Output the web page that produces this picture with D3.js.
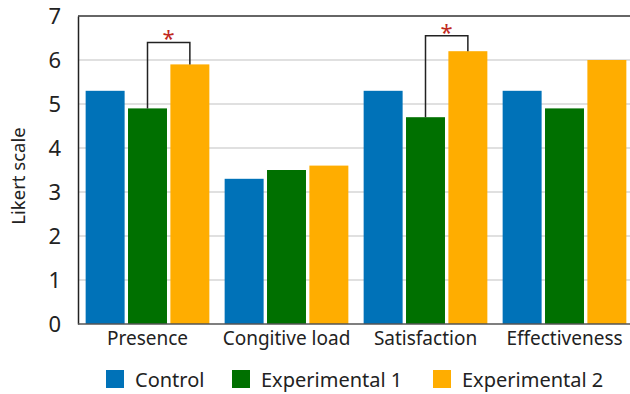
<!DOCTYPE html>
<html><head><meta charset="utf-8">
<script src="https://cdn.jsdelivr.net/npm/d3@7"></script>
<style>body{margin:0;background:#fff}svg{display:block}text{font-family:"Noto Sans","Open Sans",sans-serif;fill:#222}</style>
</head><body><svg id="c" width="630" height="394"></svg>
<script>
const categories = ["Presence", "Congitive load", "Satisfaction", "Effectiveness"];
const seriesNames = ["Control", "Experimental 1", "Experimental 2"];
const control = [5.3, 3.3, 5.3, 5.3];
const experimental1 = [4.9, 3.5, 4.7, 4.9];
const experimental2 = [5.9, 3.6, 6.2, 6.0];
const yTicks = [0, 1, 2, 3, 4, 5, 6, 7];
const colors = ["#0072b8", "#007000", "#ffad00"];
// significance brackets: category index, from series, to series, bracket level
const sigCategory = [0, 2];
const sigFrom = [1, 1];
const sigTo = [2, 2];
const sigLevel = [6.4, 6.55];

const values = [control, experimental1, experimental2];
const svg = d3.select("#c");
const L = 78, R = 634, T = 16, B = 324;
const x = d3.scaleBand().domain(categories).range([L, R]).paddingInner(0.11).paddingOuter(0.055);
const xs = d3.scaleBand().domain(seriesNames).range([0, x.bandwidth()]).paddingInner(0.08);
const y = d3.scaleLinear().domain([0, 7]).range([B, T]);

// gridlines
svg.append("g").selectAll("line").data(yTicks.filter(t => t > 0 && t < 7)).join("line")
  .attr("x1", L).attr("x2", 630).attr("y1", d => y(d)).attr("y2", d => y(d))
  .attr("stroke", "#d6d6d6").attr("stroke-width", 1.5);
// top border
svg.append("line").attr("x1", L).attr("x2", 630).attr("y1", y(7)).attr("y2", y(7))
  .attr("stroke", "#666").attr("stroke-width", 2);

// bars
const g = svg.append("g");
categories.forEach((c, i) => {
  seriesNames.forEach((s, j) => {
    g.append("rect").attr("x", x(c) + xs(s)).attr("width", xs.bandwidth())
      .attr("y", y(values[j][i])).attr("height", y(0) - y(values[j][i]))
      .attr("fill", colors[j]);
  });
});

// axes
const ya = svg.append("g").attr("transform", `translate(${L},0)`)
  .call(d3.axisLeft(y).tickValues(yTicks).tickFormat(d3.format("d")).tickSize(0).tickPadding(17));
ya.select(".domain").attr("stroke", "#222").attr("stroke-width", 1.5);
ya.selectAll("text").style("font-size", "22px").attr("fill", "#222");
const xa = svg.append("g").attr("transform", `translate(0,${B})`)
  .call(d3.axisBottom(x).tickSize(0).tickPadding(8));
xa.select(".domain").attr("stroke", "#555").attr("stroke-width", 1.5).attr("d", `M${L},0H630`);
xa.selectAll("text").style("font-size", "19px").attr("fill", "#222");

svg.append("text").attr("transform", `translate(25,${(T + B) / 2 + 6}) rotate(-90)`)
  .attr("text-anchor", "middle").style("font-size", "18.5px").text("Likert scale");

// significance brackets
sigCategory.forEach((ci, k) => {
  const c = categories[ci];
  const x1 = x(c) + xs(seriesNames[sigFrom[k]]) + xs.bandwidth() / 2;
  const x2 = x(c) + xs(seriesNames[sigTo[k]]) + xs.bandwidth() / 2;
  const yl = y(sigLevel[k]);
  svg.append("path")
    .attr("d", `M${x1},${y(values[sigFrom[k]][ci])}V${yl}H${x2}V${y(values[sigTo[k]][ci])}`)
    .attr("fill", "none").attr("stroke", "#222").attr("stroke-width", 1.5);
  svg.append("text").attr("x", (x1 + x2) / 2).attr("y", yl + 4).attr("text-anchor", "middle")
    .style("font-size", "22px").style("fill", "#c0281e").text("*");
});

// legend
const legX = [106, 232, 433];
seriesNames.forEach((s, j) => {
  svg.append("rect").attr("x", legX[j]).attr("y", 370).attr("width", 18).attr("height", 18).attr("fill", colors[j]);
  svg.append("text").attr("x", legX[j] + 29).attr("y", 387).style("font-size", "20px").text(s);
});
</script></body></html>
